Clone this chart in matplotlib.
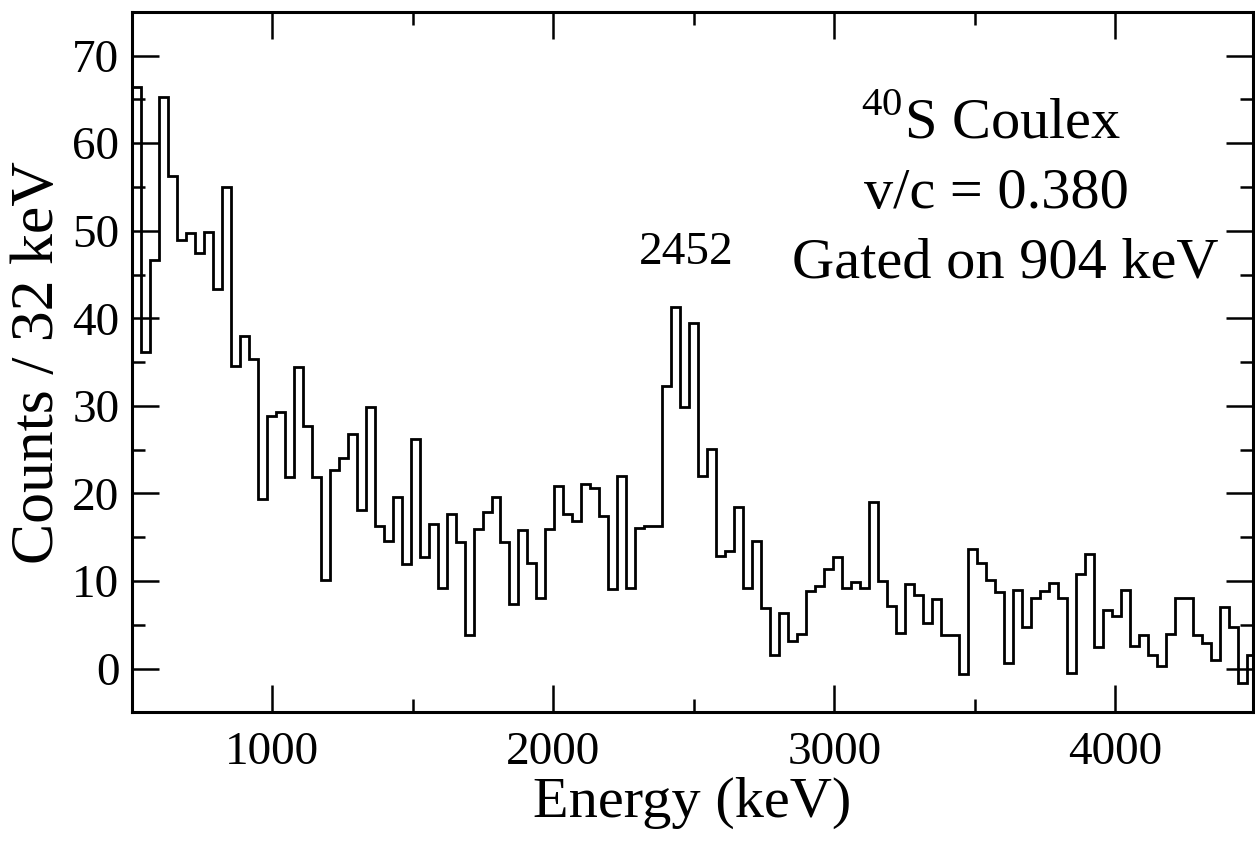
import matplotlib
matplotlib.use('Agg')
import matplotlib.pyplot as plt
import numpy as np
from matplotlib.ticker import MultipleLocator

plt.rcParams['font.family'] = ['Liberation Serif', 'DejaVu Serif']
plt.rcParams['mathtext.fontset'] = 'custom'
plt.rcParams['mathtext.rm'] = 'Liberation Serif'

# 40S Coulex spectrum, gated on 904 keV, 32 keV bins starting at 500 keV
bin_start = 500
bin_width = 32
counts = [66.4, 36.1, 46.6, 65.3, 56.3, 48.9, 49.7, 47.4, 49.9, 43.4,
          55.0, 34.5, 38.0, 35.3, 19.4, 28.8, 29.3, 21.9, 34.4, 27.7,
          21.9, 10.1, 22.7, 24.0, 26.8, 18.1, 29.9, 16.3, 14.6, 19.6,
          11.9, 26.2, 12.7, 16.5, 9.2, 17.7, 14.5, 3.8, 15.9, 17.9,
          19.6, 14.5, 7.4, 15.8, 12.0, 8.0, 15.9, 20.8, 17.6, 16.9,
          21.1, 20.6, 17.4, 9.1, 22.0, 9.2, 16.1, 16.3, 16.3, 32.3,
          41.3, 29.9, 39.5, 22.0, 25.1, 12.8, 13.4, 18.4, 9.2, 14.6,
          6.9, 1.5, 6.3, 3.2, 3.9, 8.8, 9.4, 11.4, 12.7, 9.2,
          9.9, 9.2, 19.0, 10.0, 7.1, 4.1, 9.6, 8.4, 5.2, 7.9,
          3.8, 3.8, -0.6, 13.7, 12.0, 10.1, 8.7, 0.6, 9.0, 4.8,
          8.0, 8.8, 9.8, 8.0, -0.5, 10.85, 13.05, 2.5, 6.7, 6.0,
          9.0, 2.55, 3.8, 1.5, 0.3, 4.0, 8.0, 8.0, 3.8, 2.9,
          1.0, 7.0, 4.8, -1.7, 1.5]
edges = bin_start + bin_width * np.arange(len(counts) + 1)

peak_label = '2452'
info_lines = [r'$^{\mathrm{40}}$S Coulex', 'v/c = 0.380', 'Gated on 904 keV']

fig = plt.figure(figsize=(12.55, 8.43), dpi=100)
ax = fig.add_axes([0.105, 0.155, 0.8935, 0.831])

ax.stairs(counts, edges, baseline=None, color='k', lw=2.0)

ax.set_xlim(500, 4490)
ax.set_ylim(-5, 75)
ax.xaxis.set_major_locator(MultipleLocator(1000))
ax.xaxis.set_minor_locator(MultipleLocator(500))
ax.yaxis.set_major_locator(MultipleLocator(10))
ax.yaxis.set_minor_locator(MultipleLocator(5))
ax.tick_params(which='both', direction='in', top=True, right=True, width=1.8, labelsize=34)
ax.tick_params(which='major', length=19.5)
ax.tick_params(which='minor', length=9.5)
ax.tick_params(axis='x', pad=14)
ax.tick_params(axis='y', pad=9)
for s in ax.spines.values():
    s.set_linewidth(2.2)

ax.set_xlabel('Energy (keV)', fontsize=42, labelpad=2)
ax.set_ylabel('Counts / 32 keV', fontsize=44.5, labelpad=4)

ax.text(2472, 46.2, peak_label, fontsize=34, ha='center', va='baseline')
ax.text(3557, 60.7, info_lines[0], fontsize=42, ha='center', va='baseline')
ax.text(3577, 52.6, info_lines[1], fontsize=42, ha='center', va='baseline')
ax.text(3607, 44.7, info_lines[2], fontsize=42, ha='center', va='baseline')

fig.savefig('out.png', dpi=100)
